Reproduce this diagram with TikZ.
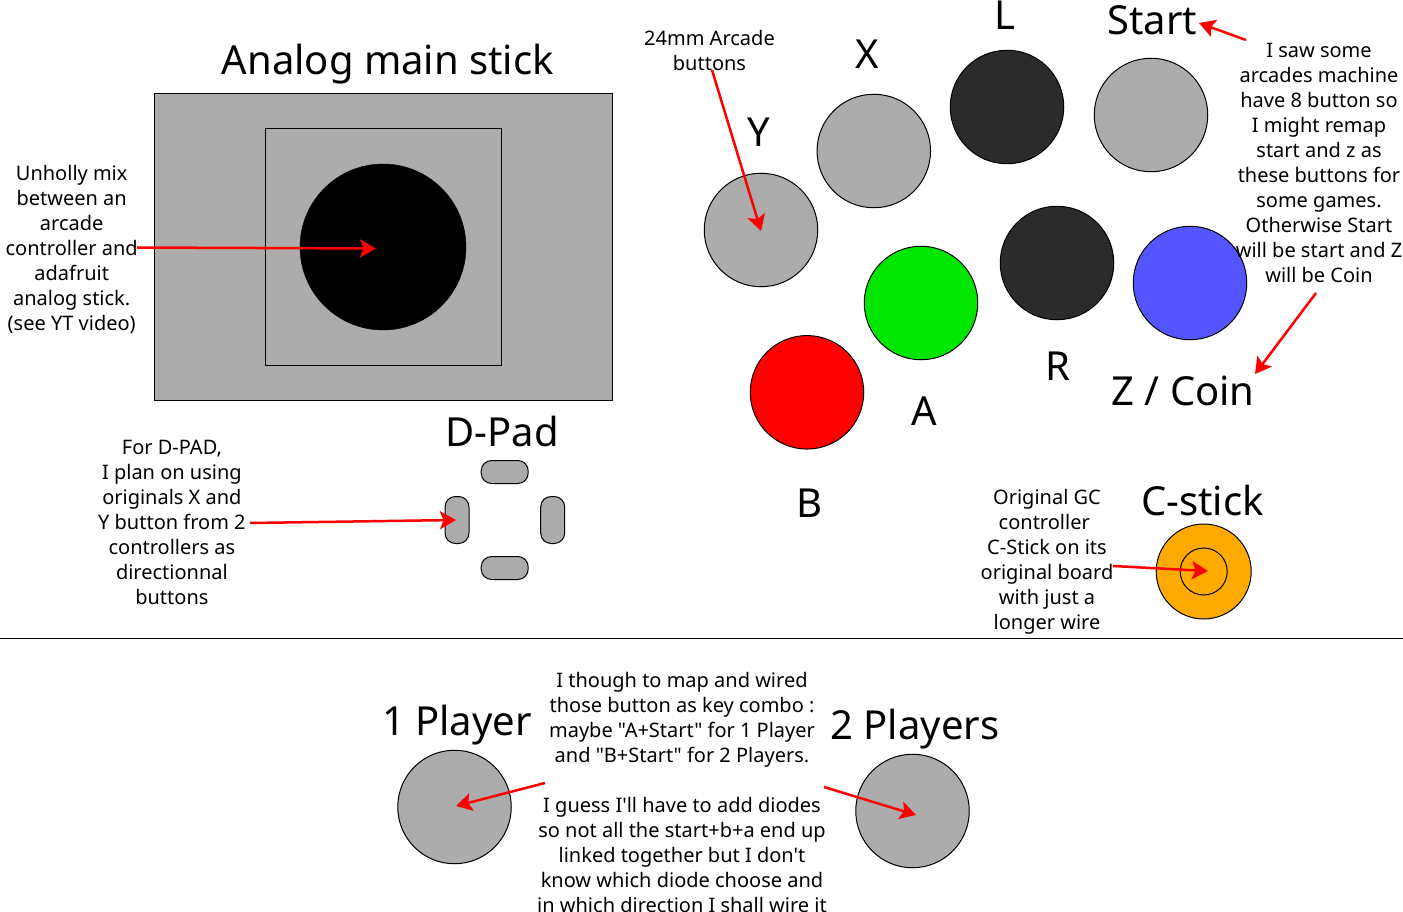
\documentclass[tikz,border=0pt]{standalone}
\usepackage{fontspec}
\setmainfont{Noto Sans}
\newfontfamily\plainsans{Noto Sans}
\usetikzlibrary{arrows.meta}
\definecolor{btngray}{HTML}{ACACAC}
\definecolor{btndark}{HTML}{2B2B2B}
\tikzset{
  x=1pt,y=-1pt,
  btn/.style={circle,draw=black,line width=1pt,minimum size=113.5pt,inner sep=0pt,fill=btngray},
  big/.style={inner sep=0pt,font=\fontsize{40}{40}\selectfont},
  note/.style={inner sep=0pt,align=center,font=\plainsans\fontsize{20}{25}\selectfont},
  pad/.style={draw=black,line width=1pt,fill=btngray,rounded corners=10.5pt,inner sep=0pt},
  rarrow/.style={draw=red,line width=2.5pt,-{Stealth[length=16pt,width=18pt,inset=3.5pt]}},
}
\begin{document}
\begin{tikzpicture}
\useasboundingbox (0,0) rectangle (1403,912);
% analog stick
\node[draw=black,line width=1pt,fill=btngray,minimum width=458pt,minimum height=307pt,inner sep=0pt] (base) at (383.2,247) {};
\node[draw=black,line width=1pt,fill=btngray,minimum width=236pt,minimum height=236pt,inner sep=0pt] (gate) at (383.2,247) {};
\node[circle,fill=black,draw=black,minimum size=166pt,inner sep=0pt] (stick) at (383,247) {};
\node[big] (ttlstick) at (387.8,64) {Analog main stick};
\node[note] (nstick) at (71.7,249) {Unholly mix\\between an\\arcade\\controller and\\adafruit\\analog stick.\\(see YT video)};
% d-pad
\node[big] (ttlpad) at (502,431) {D-Pad};
\node[pad,minimum width=47pt,minimum height=23pt] (up) at (504.7,472) {};
\node[pad,minimum width=47pt,minimum height=23pt] (down) at (504.7,568) {};
\node[pad,minimum width=24pt,minimum height=47pt] (left) at (457,520) {};
\node[pad,minimum width=24pt,minimum height=47pt] (right) at (552.7,520) {};
\node[note] (npad) at (171.9,522) {For D-PAD,\\I plan on using\\originals X and\\Y button from 2\\controllers as\\directionnal\\buttons};
% buttons
\node[btn] (by) at (761,230) {};
\node[btn] (bx) at (873.8,151) {};
\node[btn,fill=btndark] (bl) at (1007,107) {};
\node[btn] (bs) at (1151,115) {};
\node[btn,fill=red] (bb) at (807,392.3) {};
\node[btn,fill={rgb,255:red,0;green,230;blue,0}] (ba) at (921,303) {};
\node[btn,fill=btndark] (br) at (1057,263) {};
\node[btn,fill={rgb,255:red,85;green,85;blue,255}] (bz) at (1190,283) {};
\node[big] (ly) at (758.7,132) {Y};
\node[big] (lx) at (867.7,54) {X};
\node[big] (ll) at (1005,15) {L};
\node[big] (ls) at (1152.3,20) {Start};
\node[big] (lb) at (809,503) {B};
\node[big] (la) at (924.3,411) {A};
\node[big] (lr) at (1058,366) {R};
\node[big] (lz) at (1183,391) {Z / Coin};
\node[note] (n24) at (709.5,50.5) {24mm Arcade\\buttons};
\node[note] (nsaw) at (1319,162.6) {I saw some\\arcades machine\\have 8 button so\\I might remap\\start and z as\\these buttons for\\some games.\\Otherwise Start\\will be start and Z\\will be Coin};
% c-stick
\node[circle,draw=black,line width=1pt,fill={rgb,255:red,255;green,170;blue,0},minimum size=95pt,inner sep=0pt] (cs) at (1203.7,571.5) {};
\node[circle,draw=black,line width=1pt,minimum size=47pt,inner sep=0pt] (csi) at (1203.7,571.5) {};
\node[big] (lc) at (1202.5,500) {C-stick};
\node[note] (nc) at (1047,562) {Original GC\\controller\rule{5.5pt}{0pt}\\C-Stick on its\\original board\\with just a\\longer wire};
% separator
\coordinate (sepl) at (0,638.5);
\coordinate (sepr) at (1403,638.5);
\draw[black,line width=1pt] (sepl) -- (sepr);
% players
\node[btn] (p1) at (454.5,807) {};
\node[btn] (p2) at (912.5,811) {};
\node[big] (l1) at (457,725) {1 Player};
\node[big] (l2) at (914.8,729) {2 Players};
\node[note] (nmap) at (682,719.5) {I though to map and wired\\those button as key combo :\\maybe "A+Start" for 1 Player\\and "B+Start" for 2 Players.};
\node[note] (ndio) at (682,855) {I guess I'll have to add diodes\\so not all the start+b+a end up\\linked together but I don't\\know which diode choose and\\in which direction I shall wire it};
% arrows
\coordinate (a1s) at (137,247.5); \coordinate (a1e) at (376,248.5);
\coordinate (a2s) at (250,523); \coordinate (a2e) at (456,520);
\coordinate (a3s) at (712,70); \coordinate (a3e) at (761,231);
\coordinate (a4s) at (1246,40); \coordinate (a4e) at (1199,23);
\coordinate (a5s) at (1316,293); \coordinate (a5e) at (1255,374);
\coordinate (a6s) at (1113,566); \coordinate (a6e) at (1208,571);
\coordinate (a7s) at (545,783); \coordinate (a7e) at (456,806);
\coordinate (a8s) at (824,787); \coordinate (a8e) at (916,815);
\foreach \s/\e in {a1s/a1e,a2s/a2e,a3s/a3e,a4s/a4e,a5s/a5e,a6s/a6e,a7s/a7e,a8s/a8e}
  \draw[rarrow] (\s) -- (\e);
\end{tikzpicture}
\end{document}
